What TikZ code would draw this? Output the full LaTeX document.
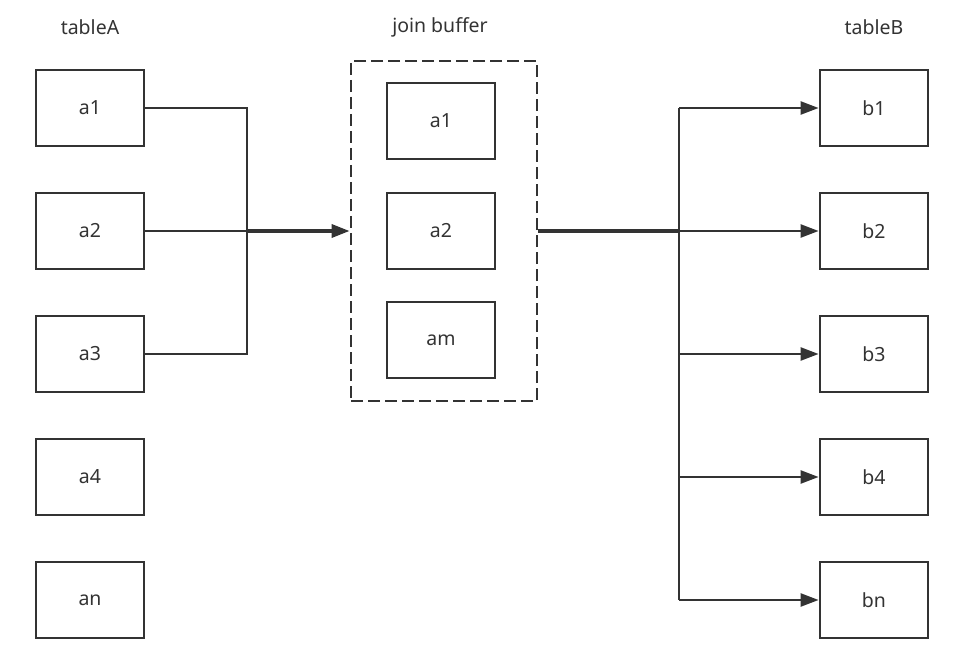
\documentclass[tikz,border=0pt]{standalone}
\usepackage{fontspec}
\setmainfont{Noto Sans}
\usetikzlibrary{arrows.meta}
\definecolor{ink}{HTML}{333333}
\tikzset{
  cell/.style={draw=ink, line width=2.8pt, minimum width=108pt, minimum height=76pt, inner sep=0pt, font=\fontsize{19.5pt}{23pt}\selectfont, text=ink},
  title/.style={font=\fontsize{19.5pt}{23pt}\selectfont, text=ink},
  conn/.style={draw=ink, line width=2.4pt},
  fat/.style={draw=ink, line width=3.4pt},
  tip/.style={-{Triangle[length=18pt,width=13pt]}},
  bufbox/.style={draw=ink, line width=2.8pt, dash pattern=on 12pt off 5pt, minimum width=186pt, minimum height=340pt, inner sep=0pt}
}
\begin{document}
\begin{tikzpicture}[x=1pt,y=-1pt]
\useasboundingbox (0,0) rectangle (967,650);
% titles
\node[title] (tA) at (90,27) {tableA};
\node[title] (tJ) at (440,27) {join buffer};
\node[title] (tB) at (874,27) {tableB};
% table A
\node[cell] (a1) at (90,108) {a1};
\node[cell] (a2) at (90,231) {a2};
\node[cell] (a3) at (90,354) {a3};
\node[cell] (a4) at (90,477) {a4};
\node[cell] (an) at (90,600) {an};
% join buffer
\node[bufbox] (buf) at (444,231) {};
\node[cell] (j1) at (441,121) {a1};
\node[cell] (j2) at (441,231) {a2};
\node[cell] (jm) at (441,340) {am};
% table B
\node[cell] (b1) at (874,108) {b1};
\node[cell] (b2) at (874,231) {b2};
\node[cell] (b3) at (874,354) {b3};
\node[cell] (b4) at (874,477) {b4};
\node[cell] (bn) at (874,600) {bn};
% junctions
\coordinate (jA) at (247,231);
\coordinate (jB) at (679,231);
% left connectors
\draw[conn] (a1.east) -| (jA) |- (a3.east);
\draw[conn] (a2.east) -- (jA);
\draw[fat, tip] (jA) -- (buf.west);
% right connectors
\draw[fat] (buf.east) -- (jB);
\draw[conn] (jB |- b1.west) -- (jB |- bn.west);
\foreach \b in {b1,b2,b3,b4,bn}{
  \draw[conn, tip] (jB |- \b.west) -- (\b.west);
}
\end{tikzpicture}
\end{document}
